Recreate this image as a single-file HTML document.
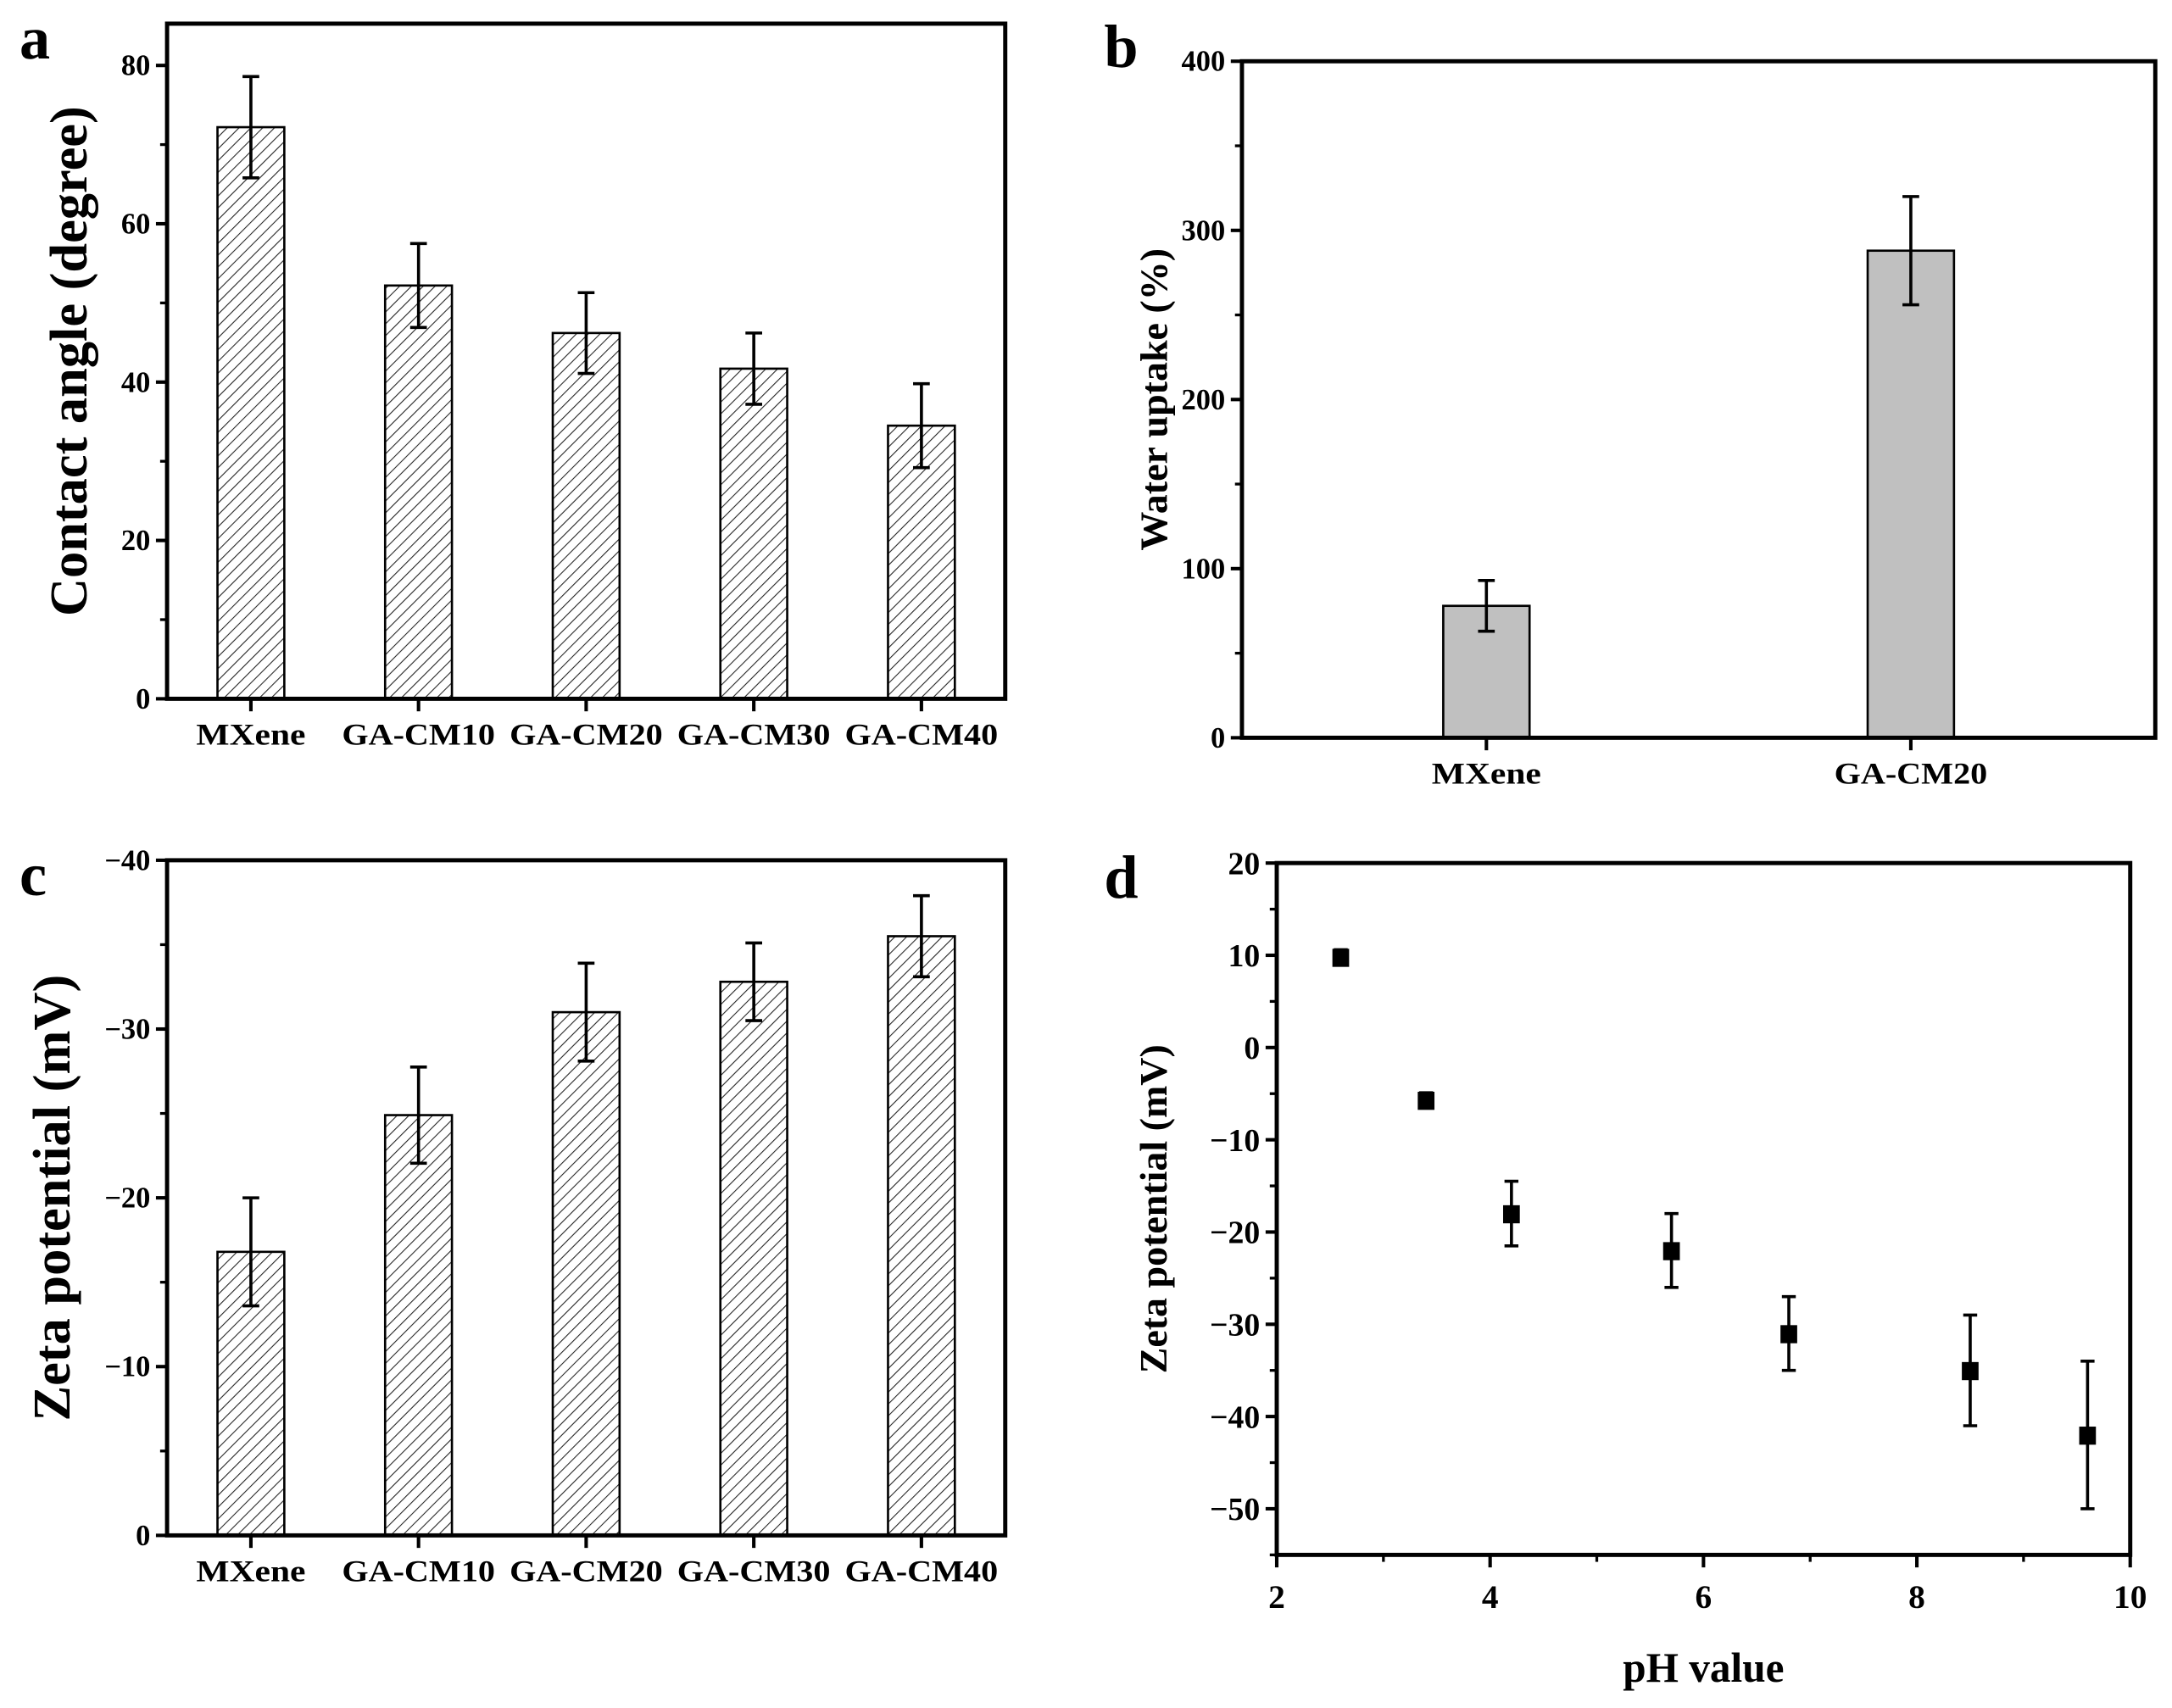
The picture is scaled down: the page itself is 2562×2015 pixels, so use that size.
<!DOCTYPE html>
<html><head><meta charset="utf-8"><style>
html,body{margin:0;padding:0;background:#fff}
svg{display:block}
text{font-family:"Liberation Serif",serif;font-weight:bold;fill:#000}
</style></head><body>
<svg id="fig" width="2562" height="2015" viewBox="0 0 1560 1227" preserveAspectRatio="none" xmlns="http://www.w3.org/2000/svg">
<defs>
<pattern id="hatch" patternUnits="userSpaceOnUse" width="6" height="6" patternTransform="rotate(45)">
<rect width="6" height="6" fill="#fff"/><line x1="0" y1="0" x2="0" y2="6" stroke="#222" stroke-width="1.3"/>
</pattern>
</defs>
</svg>
<script>
// Panel a data
const aCats = ["MXene","GA-CM10","GA-CM20","GA-CM30","GA-CM40"];
const aVals = [72.2,52.2,46.2,41.7,34.5];
const aErr = [6.4,5.3,5.1,4.5,5.3];
const aTicks = [0,20,40,60,80];
// Panel b data
const bCats = ["MXene","GA-CM20"];
const bVals = [78,288];
const bErr = [15,32];
const bTicks = [0,100,200,300,400];
// Panel c data
const cCats = ["MXene","GA-CM10","GA-CM20","GA-CM30","GA-CM40"];
const cVals = [16.8,24.9,31.0,32.8,35.5];
const cErr = [3.2,2.85,2.9,2.3,2.4];
const cTicks = [0,10,20,30,40];
// Panel d data
const dX = [2.6,3.4,4.2,5.7,6.8,8.5,9.6];
const dY = [9.8,-5.7,-18,-22,-31,-35,-42];
const dErr = [0.8,0.8,3.5,4,4,6,8];
const dXTicks = [2,4,6,8,10];
const dYTicks = [20,10,0,-10,-20,-30,-40,-50];

const svg = document.getElementById('fig');
const NS = "http://www.w3.org/2000/svg";
function el(tag, attrs, parent){const e=document.createElementNS(NS,tag);for(const k in attrs)e.setAttribute(k,attrs[k]);(parent||svg).appendChild(e);return e;}
function txt(s, attrs, parent){const e=el('text',attrs,parent);e.textContent=s;return e;}
function line(x1,y1,x2,y2,w,parent){return el('line',{x1,y1,x2,y2,stroke:'#000','stroke-width':w||2},parent);}

function errorBar(g,x,y1,y2,cap){
  const e1=line(x,y1,x,y2,2.2,g);
  
  
  line(x-cap,y1,x+cap,y1,2.2,g);line(x-cap,y2,x+cap,y2,2.2,g);
}

function barPanel(o){
  const g=el('g',{});
  
  
  const yS=v=>o.bottom-(v-o.min)/(o.max-o.min)*(o.bottom-o.axisTop);
  const n=o.cats.length;
  const step=(o.right-o.left)/(n-1+2*o.outer);
  const xS=i=>o.left+step*(o.outer+i);
  o.vals.forEach((v,i)=>{
    const r=el('rect',{x:xS(i)-o.bw/2,y:yS(v),width:o.bw,height:o.bottom-yS(v),fill:o.fill,stroke:'#000','stroke-width':1.6},g);
    
    
    errorBar(g,xS(i),yS(v+o.err[i]),yS(v-o.err[i]),6);
  });
  const f=el('rect',{x:o.left,y:o.top,width:o.right-o.left,height:o.bottom-o.top,fill:'none',stroke:'#000','stroke-width':3},g);
  
  
  o.ticks.forEach((t,i)=>{
    const y=yS(t);
    line(o.left-8,y,o.left,y,2.5,g);
    const l=txt(o.neg&&t!==0?'\u2212'+t:String(t),{x:o.left-12,y:y+7,'font-size':21,'text-anchor':'end'},g);
    
    
    if(i<o.ticks.length-1){const m=yS((t+o.ticks[i+1])/2);line(o.left-5,m,o.left,m,2,g);}
  });
  o.cats.forEach((c,i)=>{
    line(xS(i),o.bottom,xS(i),o.bottom+9,2.5,g);
    const l=txt(c,{x:xS(i),y:o.bottom+33,'font-size':o.catSize,'text-anchor':'middle',textLength:o.catW*c.length/7,lengthAdjust:'spacingAndGlyphs'},g);
    
    
  });
  const cy=(o.top+o.bottom)/2;
  const yt=txt(o.ytitle,{x:o.ytx,y:cy,'font-size':o.ytSize,'text-anchor':'middle',transform:`rotate(-90 ${o.ytx} ${cy})`},g);
  
  
  const pl=txt(o.letter,{x:o.lx,y:o.ly,'font-size':44},g);
  
  
}

barPanel({name:'panel-a-contact-angle',cats:aCats,vals:aVals,err:aErr,ticks:aTicks,min:0,max:80,left:120,right:722,top:17,axisTop:47,bottom:502,outer:0.5,bw:48,fill:'url(#hatch)',neg:false,catSize:22,catW:110,ytitle:'Contact angle (degree)',ytx:62,ytSize:38,letter:'a',lx:14,ly:42});
barPanel({name:'panel-b-water-uptake',cats:bCats,vals:bVals,err:bErr,ticks:bTicks,min:0,max:400,left:892,right:1548,top:44,axisTop:44,bottom:530,outer:0.576,bw:62,fill:'#c0c0c0',neg:false,catSize:22,catW:110,ytitle:'Water uptake (%)',ytx:838,ytSize:28,letter:'b',lx:793,ly:48});
barPanel({name:'panel-c-zeta-potential',cats:cCats,vals:cVals,err:cErr,ticks:cTicks,min:0,max:40,left:120,right:722,top:618,axisTop:618,bottom:1103,outer:0.5,bw:48,fill:'url(#hatch)',neg:true,catSize:22,catW:110,ytitle:'Zeta potential (mV)',ytx:50,ytSize:38,letter:'c',lx:14,ly:643});

(function(){
  const g=el('g',{});
  
  
  const L=917,R=1530,T=620,B=1117,ymin=-55,ymax=20,xmin=2,xmax=10;
  const xS=v=>L+(v-xmin)/(xmax-xmin)*(R-L);
  const yS=v=>B-(v-ymin)/(ymax-ymin)*(B-T);
  const f=el('rect',{x:L,y:T,width:R-L,height:B-T,fill:'none',stroke:'#000','stroke-width':3},g);
  
  
  dYTicks.forEach(t=>{
    const y=yS(t);line(L-8,y,L,y,2.5,g);
    const l=txt(t<0?'\u2212'+(-t):String(t),{x:L-12,y:y+8,'font-size':23,'text-anchor':'end'},g);
    
    
    const m=yS(t-5);line(L-5,m,L,m,2,g);
  });
  dXTicks.forEach((t,i)=>{
    const x=xS(t);line(x,B,x,B+9,2.5,g);
    const l=txt(String(t),{x:x,y:B+38,'font-size':24,'text-anchor':'middle'},g);
    
    
    if(i<dXTicks.length-1){const m=xS(t+1);line(m,B,m,B+5,2,g);}
  });
  dX.forEach((x,i)=>{
    errorBar(g,xS(x),yS(dY[i]+dErr[i]),yS(dY[i]-dErr[i]),5);
    const p=el('rect',{x:xS(x)-6,y:yS(dY[i])-6,width:12,height:13,fill:'#000'},g);
    
    
  });
  const xt=txt('pH value',{x:(L+R)/2,y:1208,'font-size':30,'text-anchor':'middle'},g);
  
  
  const cy=(T+B)/2;
  const yt=txt('Zeta potential (mV)',{x:838,y:cy,'font-size':28,'text-anchor':'middle',transform:`rotate(-90 838 ${cy})`},g);
  
  
  const pl=txt('d',{x:793,y:645,'font-size':44},g);
  
  
})();
</script>
</body></html>
